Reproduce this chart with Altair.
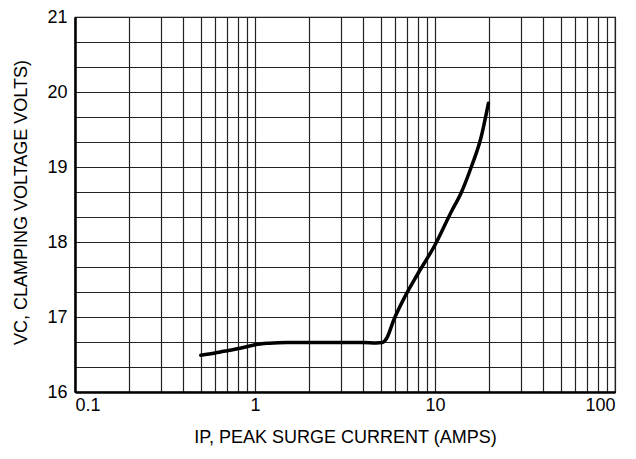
import altair as alt
import pandas as pd

# Curve: peak surge current (A) vs clamping voltage (V)
current = [0.5, 0.6, 0.7, 0.85, 1.0, 1.2, 1.5, 2.0, 3.0, 4.0, 4.7, 5.1, 5.4, 5.9, 6.8, 8.0, 10.0, 12.3, 14.0, 15.9, 18.0, 19.8]
voltage = [16.49, 16.52, 16.55, 16.59, 16.63, 16.65, 16.66, 16.66, 16.66, 16.66, 16.655, 16.66, 16.72, 16.96, 17.27, 17.57, 17.96, 18.40, 18.66, 19.00, 19.39, 19.85]

x_grid = [m * 10.0 ** e for e in (-1, 0, 1) for m in range(1, 10)] + [100.0]
y_grid = [16 + i / 3 for i in range(16)]

df = pd.DataFrame({"I": current, "V": voltage})

FONT = "Liberation Sans"
x_label_expr = "abs(log(datum.value)/LN10 - round(log(datum.value)/LN10)) < 0.001 ? format(datum.value, '~g') : ''"
y_label_expr = "abs(datum.value - round(datum.value)) < 0.01 ? format(datum.value, 'd') : ''"

common = dict(ticks=False, grid=True, gridColor="#222", gridWidth=1.2, gridOpacity=1,
              domainColor="black", domainWidth=2.5,
              labelFont=FONT, labelFontSize=18, labelColor="black", labelOverlap=False,
              titleFont=FONT, titleFontSize=18, titleFontWeight="normal", titleColor="black")

chart = alt.Chart(df).mark_line(
    color="black", strokeWidth=3.5, interpolate="monotone", strokeCap="round"
).encode(
    x=alt.X("I:Q",
            scale=alt.Scale(type="log", domain=[0.1, 100], nice=False),
            axis=alt.Axis(values=x_grid, labelExpr=x_label_expr, labelPadding=4,
                          title="IP, PEAK SURGE CURRENT (AMPS)", titlePadding=14, **common)),
    y=alt.Y("V:Q",
            scale=alt.Scale(domain=[16, 21], nice=False, zero=False),
            axis=alt.Axis(values=y_grid, labelExpr=y_label_expr, labelPadding=8,
                          title="VC, CLAMPING VOLTAGE VOLTS)", titlePadding=16, titleY=185,
                          **common)),
).properties(
    width=540, height=375,
    autosize=alt.AutoSizeParams(type="none"),
    padding={"left": 67, "top": 9, "right": 13, "bottom": 59},
).configure_view(stroke="black", strokeWidth=1.2)

chart.save("out.html", embed_options={"renderer": "svg", "actions": False})
